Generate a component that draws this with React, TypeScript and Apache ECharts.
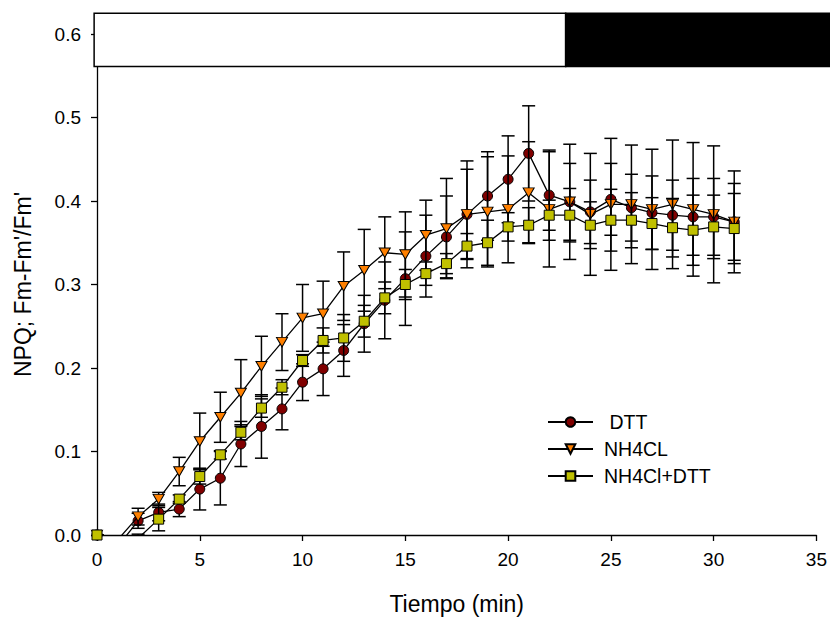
import React, { useEffect, useRef } from 'react';
import * as echarts from 'echarts';

const times = [0, 1, 2, 3, 4, 5, 6, 7, 8, 9, 10, 11, 12, 13, 14, 15, 16, 17, 18, 19, 20, 21, 22, 23, 24, 25, 26, 27, 28, 29, 30, 31];

const dttValues = [0, -0.014, 0.017, 0.027, 0.031, 0.055, 0.068, 0.109, 0.130, 0.151, 0.183, 0.199, 0.221, 0.253, 0.281, 0.307, 0.334, 0.357, 0.384, 0.406, 0.426, 0.457, 0.407, 0.399, 0.387, 0.402, 0.392, 0.386, 0.383, 0.381, 0.381, 0.375];
const dttErrors = [0, 0.005, 0.009, 0.010, 0.009, 0.025, 0.032, 0.027, 0.038, 0.025, 0.022, 0.032, 0.031, 0.034, 0.046, 0.056, 0.049, 0.049, 0.064, 0.053, 0.052, 0.057, 0.054, 0.046, 0.038, 0.043, 0.040, 0.044, 0.042, 0.046, 0.046, 0.046];

const nh4clValues = [0, -0.006, 0.022, 0.043, 0.076, 0.112, 0.141, 0.170, 0.202, 0.231, 0.260, 0.265, 0.298, 0.317, 0.338, 0.336, 0.359, 0.367, 0.384, 0.387, 0.390, 0.410, 0.390, 0.399, 0.384, 0.396, 0.396, 0.390, 0.396, 0.390, 0.384, 0.375];
const nh4clErrors = [0, 0.005, 0.010, 0.008, 0.017, 0.034, 0.030, 0.040, 0.036, 0.034, 0.040, 0.039, 0.041, 0.049, 0.043, 0.051, 0.042, 0.060, 0.054, 0.066, 0.064, 0.061, 0.069, 0.069, 0.073, 0.079, 0.071, 0.072, 0.077, 0.080, 0.082, 0.061];

const mixValues = [0, -0.012, -0.004, 0.019, 0.043, 0.070, 0.096, 0.123, 0.152, 0.177, 0.209, 0.233, 0.236, 0.256, 0.284, 0.300, 0.313, 0.325, 0.346, 0.350, 0.369, 0.371, 0.383, 0.383, 0.371, 0.377, 0.377, 0.373, 0.368, 0.365, 0.369, 0.367];
const mixErrors = [0, 0.005, 0.005, 0.014, 0.005, 0.009, 0.005, 0.009, 0.011, 0.009, 0.007, 0.015, 0.028, 0.019, 0.019, 0.018, 0.014, 0.012, 0.015, 0.027, 0.017, 0.021, 0.018, 0.032, 0.028, 0.037, 0.033, 0.031, 0.035, 0.042, 0.038, 0.042];

const seriesNames = ['DTT', 'NH4CL', 'NH4Cl+DTT'];
const legendLabels = ['\u00a0DTT', 'NH4CL', 'NH4Cl+DTT'];

// light / dark period bar (minutes) and its vertical band (NPQ units)
const periodStarts = [-0.14, 22.8];
const periodEnds = [22.8, 35.7];
const periodColors = ['#ffffff', '#000000'];
const periodBand = [0.561, 0.625];

const FONT = 'Liberation Sans, Arial, Helvetica, sans-serif';

export default function App() {
  const ref = useRef<HTMLDivElement>(null);

  useEffect(() => {
    document.body.style.margin = '0';
    const chart = echarts.init(ref.current as HTMLDivElement, undefined, { renderer: 'svg' });

    const errorSeries = (values: number[], errors: number[], z: number) => ({
      type: 'custom',
      clip: true,
      silent: true,
      z,
      encode: { x: 0, y: [1, 2] },
      data: times.map((t, i) => [t, values[i] - errors[i], values[i] + errors[i]]),
      renderItem: (params: any, api: any) => {
        const x = api.value(0);
        const pLo = api.coord([x, api.value(1)]);
        const pHi = api.coord([x, api.value(2)]);
        const hw = 6.5;
        const st = { stroke: '#000', lineWidth: 1.5 };
        return {
          type: 'group',
          children: [
            { type: 'line', shape: { x1: pLo[0], y1: pLo[1], x2: pHi[0], y2: pHi[1] }, style: st },
            { type: 'line', shape: { x1: pLo[0] - hw, y1: pLo[1], x2: pLo[0] + hw, y2: pLo[1] }, style: st },
            { type: 'line', shape: { x1: pHi[0] - hw, y1: pHi[1], x2: pHi[0] + hw, y2: pHi[1] }, style: st },
          ],
        };
      },
    });

    const lineSeries = (name: string, values: number[], symbol: string, symbolSize: any, color: string, z: number) => ({
      name,
      type: 'line',
      z,
      clip: true,
      data: times.map((t, i) => [t, values[i]]),
      symbol,
      symbolSize,
      showAllSymbol: true,
      itemStyle: { color, borderColor: '#000', borderWidth: 1 },
      lineStyle: { color: '#000', width: 1.3 },
      emphasis: { disabled: true },
    });

    const triDown = 'path://M0,0L10,0L5,9Z';

    chart.setOption({
      animation: false,
      textStyle: { fontFamily: FONT },
      grid: { left: 97, right: 13, top: 34, bottom: 82, containLabel: false },
      legend: {
        orient: 'vertical',
        left: 547,
        top: 412,
        padding: 0,
        itemWidth: 45,
        itemHeight: 12,
        itemGap: 7,
        data: seriesNames,
        formatter: (name: string) => legendLabels[seriesNames.indexOf(name)],
        textStyle: { fontSize: 19.5, color: '#000', fontFamily: FONT, padding: [0, 0, 0, 6] },
        selectedMode: false,
      },
      xAxis: {
        type: 'value',
        min: 0,
        max: 35,
        interval: 5,
        name: 'Tiempo (min)',
        nameLocation: 'middle',
        nameGap: 57,
        nameTextStyle: { fontSize: 23, color: '#000', fontFamily: FONT },
        axisLine: { lineStyle: { color: '#000', width: 1.3 } },
        axisTick: { inside: false, length: 6, lineStyle: { color: '#000', width: 1.3 } },
        axisLabel: { fontSize: 19, color: '#000', margin: 15, fontFamily: FONT },
        splitLine: { show: false },
      },
      yAxis: {
        type: 'value',
        min: 0,
        max: 0.6,
        interval: 0.1,
        name: "NPQ; Fm-Fm'/Fm'",
        nameLocation: 'middle',
        nameGap: 63,
        nameTextStyle: { fontSize: 23, color: '#000', fontFamily: FONT },
        axisLine: { show: true, lineStyle: { color: '#000', width: 1.3 } },
        axisTick: { show: true, inside: false, length: 6, lineStyle: { color: '#000', width: 1.3 } },
        axisLabel: { fontSize: 19, color: '#000', margin: 16, fontFamily: FONT, formatter: (v: number) => v.toFixed(1) },
        splitLine: { show: false },
      },
      series: [
        errorSeries(dttValues, dttErrors, 2),
        lineSeries(seriesNames[0], dttValues, 'circle', 10, '#800000', 3),
        errorSeries(nh4clValues, nh4clErrors, 4),
        lineSeries(seriesNames[1], nh4clValues, triDown, [11, 9.5], '#ff8000', 5),
        errorSeries(mixValues, mixErrors, 6),
        lineSeries(seriesNames[2], mixValues, 'rect', 10, '#c0c000', 7),
        {
          type: 'custom',
          clip: false,
          silent: true,
          z: 10,
          encode: { x: [0, 1] },
          data: periodStarts.map((s, i) => [s, periodEnds[i]]),
          renderItem: (params: any, api: any) => {
            const p1 = api.coord([api.value(0), periodBand[1]]);
            const p2 = api.coord([api.value(1), periodBand[0]]);
            return {
              type: 'rect',
              shape: { x: p1[0], y: p1[1], width: p2[0] - p1[0], height: p2[1] - p1[1] },
              style: { fill: periodColors[params.dataIndex], stroke: '#000', lineWidth: 1.5 },
            };
          },
        },
      ],
    });

    return () => chart.dispose();
  }, []);

  return <div ref={ref} style={{ width: 830, height: 620 }} />;
}
